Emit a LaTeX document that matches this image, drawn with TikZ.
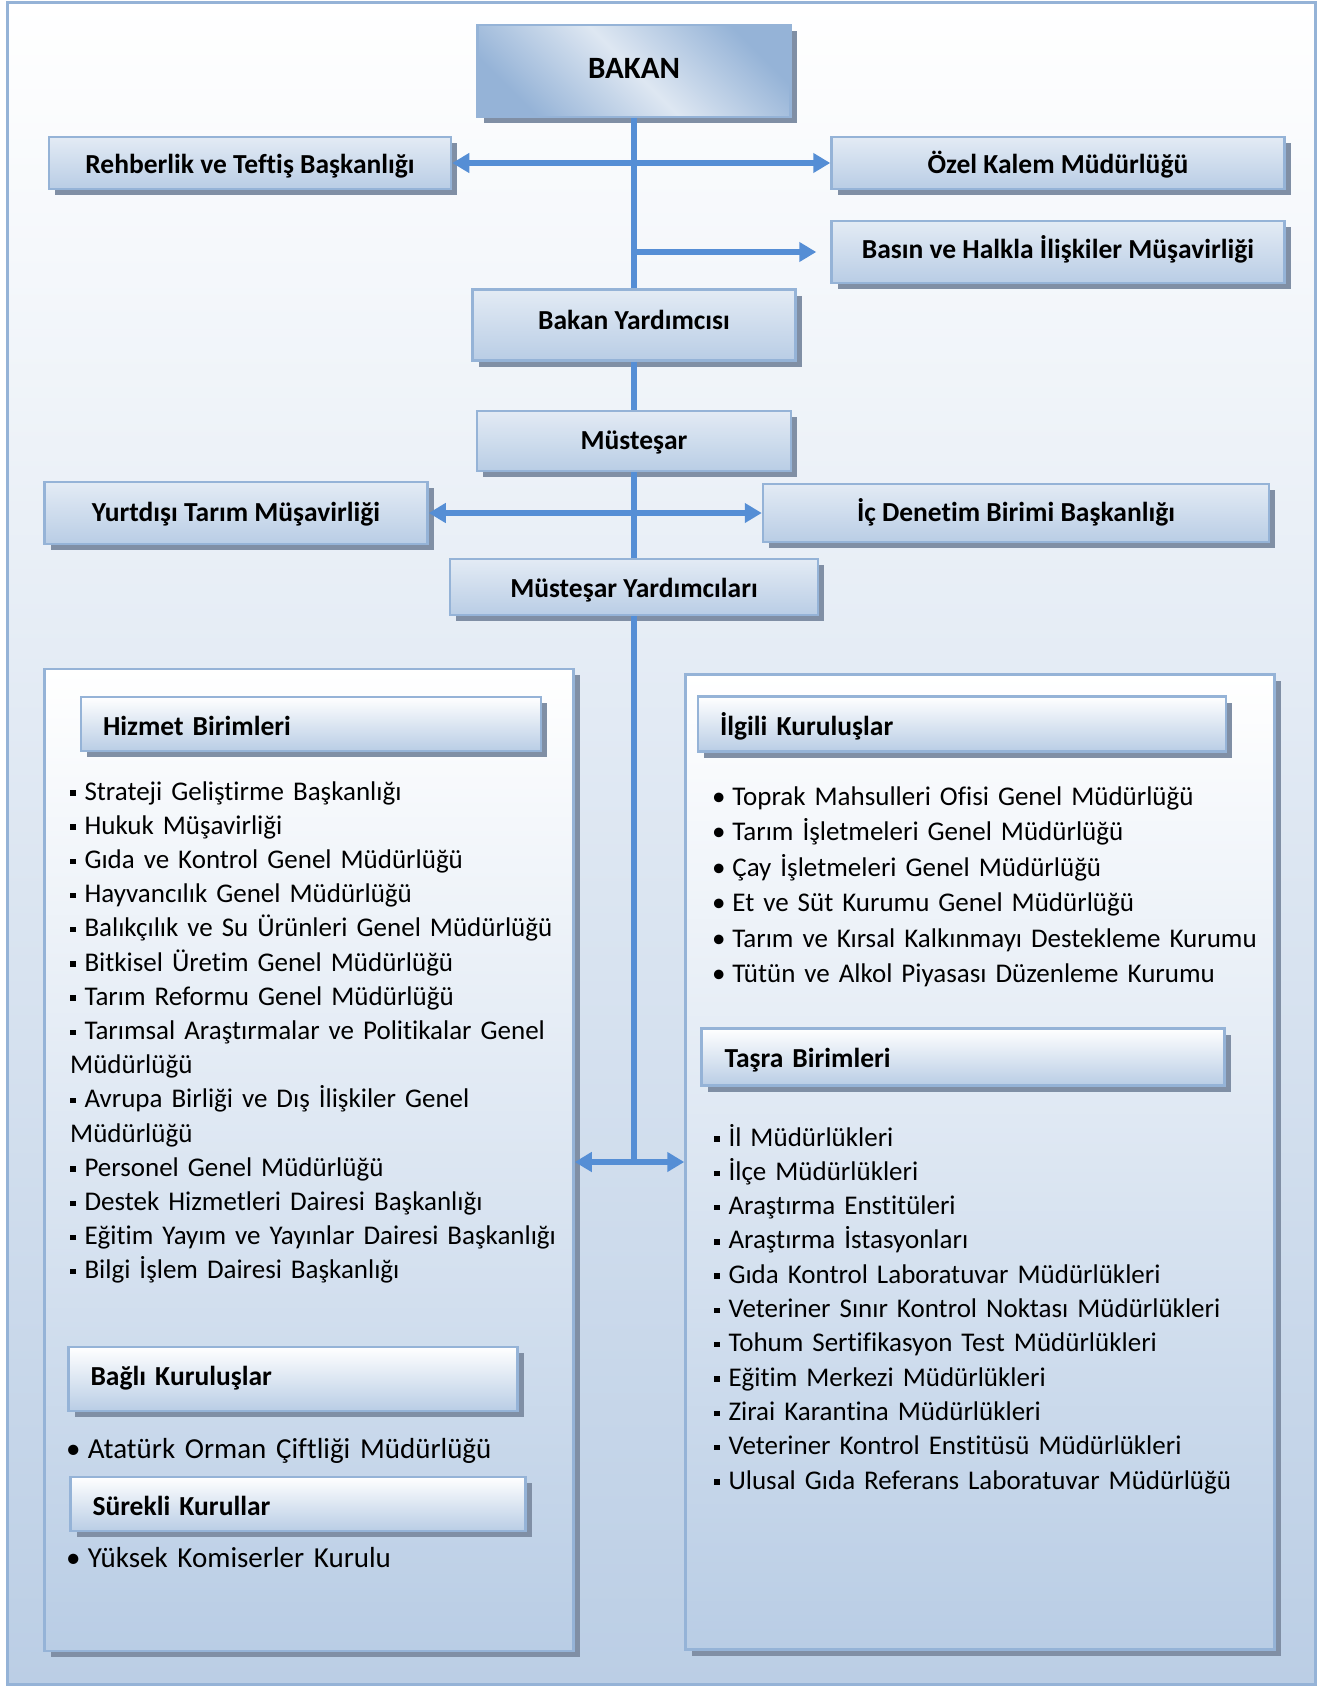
\documentclass[tikz,border=0pt]{standalone}
\usepackage{fontspec}
\setmainfont{Carlito}[Ligatures={TeX,NoCommon}]
\usetikzlibrary{positioning}
\usetikzlibrary{arrows.meta,shadows}
\definecolor{framefill}{RGB}{187,206,229}
\definecolor{boxfill}{RGB}{185,205,229}
\definecolor{boxline}{RGB}{149,179,215}
\definecolor{linkblue}{RGB}{85,142,213}
\definecolor{shadegray}{RGB}{128,143,165}
\definecolor{bakandark}{RGB}{149,179,215}
\definecolor{bakanlight}{RGB}{222,231,242}
\newcommand{\sqbul}{\rule[0.16em]{0.2em}{0.2em}\hspace{0.33em}}
\newcommand{\rdbul}{\textbullet\hspace{0.25em}}

\tikzset{
  unit/.style={draw=boxline, line width=2.5pt, inner sep=0pt,
    top color=white!60!boxfill, bottom color=boxfill,
    drop shadow={shadow xshift=6pt, shadow yshift=-6pt, fill=shadegray, opacity=1},
    font=\bfseries\fontsize{27.5}{30}\selectfont, text height=19pt, text depth=2pt},
  head/.style={unit, top color=white, bottom color=boxfill, align=left, inner xsep=22pt},
  panel/.style={draw=boxline, line width=2.5pt, inner sep=0pt,
    top color=white, bottom color=boxfill,
    drop shadow={shadow xshift=6pt, shadow yshift=-6pt, fill=shadegray, opacity=1}},
  itemlist/.style={inner sep=0pt, anchor=base west, text width=600pt, align=left,
    font=\fontsize{27}{34.2}\selectfont},
  link/.style={draw=linkblue, line width=6pt},
  twoway/.style={link, {Triangle[length=17pt,width=19pt]}-{Triangle[length=17pt,width=19pt]}},
  oneway/.style={link, -{Triangle[length=17pt,width=19pt]}}
}

\begin{document}
\begin{tikzpicture}[x=1pt,y=-1pt]
\useasboundingbox (0,0) rectangle (1328,1686);
\path[draw=boxline, line width=3pt, top color=white, bottom color=framefill] (7,3) rectangle (1315,1684);

% upper chain
\node[unit, minimum width=313pt, minimum height=92pt, font=\bfseries\fontsize{31}{34}\selectfont, text height=17pt,
  top color=bakandark, bottom color=bakandark, middle color=bakanlight, shading angle=-45] (bakan) at (634,71) {BAKAN};
\node[unit, minimum width=402pt, minimum height=52pt, text height=23pt] (rehber) at (250,163) {Rehberlik ve Teftiş Başkanlığı};
\node[unit, minimum width=453pt, minimum height=52pt, text height=23pt] (ozel) at (1058,163) {Özel Kalem Müdürlüğü};
\node[unit, minimum width=453pt, minimum height=62pt, text height=15pt] (basin) at (1058,252) {Basın ve Halkla İlişkiler Müşavirliği};
\node[unit, minimum width=323pt, minimum height=71pt, text height=11pt] (byard) at (634,325) {Bakan Yardımcısı};
\node[unit, minimum width=314pt, minimum height=60pt] (mustesar) at (634,441) {Müsteşar};
\node[unit, minimum width=383pt, minimum height=62pt] (yurt) at (236,513) {Yurtdışı Tarım Müşavirliği};
\node[unit, minimum width=506pt, minimum height=58pt] (icden) at (1016,513) {İç Denetim Birimi Başkanlığı};
\node[unit, minimum width=368pt, minimum height=56pt, text height=23pt] (myard) at (634,587) {Müsteşar Yardımcıları};

% lower panels
\node[panel, minimum width=529pt, minimum height=982pt] (lbox) at (309,1160) {};
\node[panel, minimum width=589pt, minimum height=975pt] (rbox) at (980,1162) {};

\node[head, minimum width=460pt, minimum height=54pt, text width=416pt, text height=25pt] (hizmet) at (311,724) {Hizmet Birimleri};
\node[head, minimum width=526pt, minimum height=55pt, text width=484pt, text height=25pt] (ilgili) at (962,724) {İlgili Kuruluşlar};
\node[head, minimum width=523pt, minimum height=57pt, text width=477pt, text height=23pt] (tasra) at (963,1057) {Taşra Birimleri};
\node[head, minimum width=449pt, minimum height=64pt, text width=405pt, text height=15pt] (bagli) at (293,1379) {Bağlı Kuruluşlar};
\node[head, minimum width=455pt, minimum height=54pt, text width=411pt, text height=25pt] (surekli) at (298,1504) {Sürekli Kurullar};

\node[itemlist] (hzlist) at (70,800) {\sqbul Strateji Geliştirme Başkanlığı\\
\sqbul Hukuk Müşavirliği\\
\sqbul Gıda ve Kontrol Genel Müdürlüğü\\
\sqbul Hayvancılık Genel Müdürlüğü\\
\sqbul Balıkçılık ve Su Ürünleri Genel Müdürlüğü\\
\sqbul Bitkisel Üretim Genel Müdürlüğü\\
\sqbul Tarım Reformu Genel Müdürlüğü\\
\sqbul Tarımsal Araştırmalar ve Politikalar Genel\\
Müdürlüğü\\
\sqbul Avrupa Birliği ve Dış İlişkiler Genel\\
Müdürlüğü\\
\sqbul Personel Genel Müdürlüğü\\
\sqbul Destek Hizmetleri Dairesi Başkanlığı\\
\sqbul Eğitim Yayım ve Yayınlar Dairesi Başkanlığı\\
\sqbul Bilgi İşlem Dairesi Başkanlığı};

\node[itemlist, font=\fontsize{27}{35.5}\selectfont] (illist) at (712,805) {\rdbul Toprak Mahsulleri Ofisi Genel Müdürlüğü\\
\rdbul Tarım İşletmeleri Genel Müdürlüğü\\
\rdbul Çay İşletmeleri Genel Müdürlüğü\\
\rdbul Et ve Süt Kurumu Genel Müdürlüğü\\
\rdbul Tarım ve Kırsal Kalkınmayı Destekleme Kurumu\\
\rdbul Tütün ve Alkol Piyasası Düzenleme Kurumu};

\node[itemlist, font=\fontsize{27}{34.3}\selectfont] (tslist) at (714,1146) {\sqbul İl Müdürlükleri\\
\sqbul İlçe Müdürlükleri\\
\sqbul Araştırma Enstitüleri\\
\sqbul Araştırma İstasyonları\\
\sqbul Gıda Kontrol Laboratuvar Müdürlükleri\\
\sqbul Veteriner Sınır Kontrol Noktası Müdürlükleri\\
\sqbul Tohum Sertifikasyon Test Müdürlükleri\\
\sqbul Eğitim Merkezi Müdürlükleri\\
\sqbul Zirai Karantina Müdürlükleri\\
\sqbul Veteriner Kontrol Enstitüsü Müdürlükleri\\
\sqbul Ulusal Gıda Referans Laboratuvar Müdürlüğü};

\node[itemlist, font=\fontsize{29}{34}\selectfont] (bglist) at (66,1458) {\rdbul Atatürk Orman Çiftliği Müdürlüğü};
\node[itemlist, font=\fontsize{29}{34}\selectfont] (sklist) at (66,1567) {\rdbul Yüksek Komiserler Kurulu};

% connectors
\draw[link] (bakan.south) -- (byard.north);
\draw[twoway] (rehber.east) -- (ozel.west);
\draw[oneway, shorten >=14pt] (bakan.south |- basin.west) -- (basin.west);
\draw[link] (byard.south) -- (mustesar.north);
\draw[link] (mustesar.south) -- (myard.north);
\draw[twoway] (yurt.east) -- (icden.west);
\coordinate (split) at (634,1162);
\draw[link] (myard.south) -- (split);
\draw[twoway] (lbox.east |- split) -- (rbox.west |- split);
\end{tikzpicture}
\end{document}
